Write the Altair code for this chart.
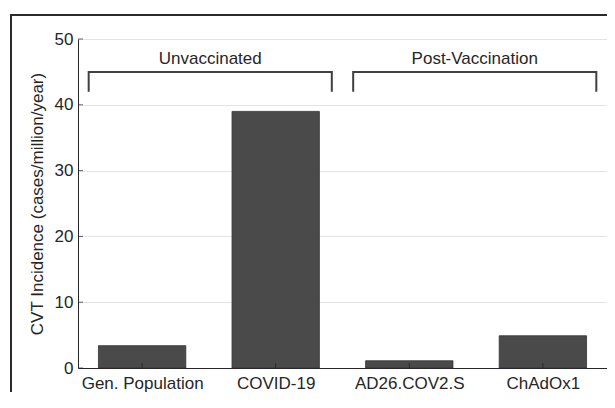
import altair as alt
import pandas as pd

categories = ["Gen. Population", "COVID-19", "AD26.COV2.S", "ChAdOx1"]
positions = [1, 2, 3, 4]
incidence = [3.4, 39.0, 1.1, 4.9]

y_ticks = [0, 10, 20, 30, 40, 50]

group_labels = ["Unvaccinated", "Post-Vaccination"]
group_start = [0.6, 2.58]
group_end = [2.42, 4.4]
bracket_top = 45.0
bracket_bottom = 42.0
label_y = 46.9

half_width = 0.327
x_domain = [0.52, 4.48]
y_domain = [0, 50]

FONT = "Liberation Sans"
TXT = "#262626"
FS = 17

bars = pd.DataFrame({
    "cat": categories,
    "pos": positions,
    "val": incidence,
})
bars["x0"] = bars["pos"] - half_width
bars["x1"] = bars["pos"] + half_width

label_expr = "{" + ",".join(f"'{p}':'{c}'" for p, c in zip(positions, categories)) + "}[datum.value]"

rows = []
for g, s, e in zip(group_labels, group_start, group_end):
    rows += [
        {"g": g, "o": 0, "x": s, "y": bracket_bottom},
        {"g": g, "o": 1, "x": s, "y": bracket_top},
        {"g": g, "o": 2, "x": e, "y": bracket_top},
        {"g": g, "o": 3, "x": e, "y": bracket_bottom},
    ]
brackets = pd.DataFrame(rows)
labels = pd.DataFrame({
    "g": group_labels,
    "x": [(s + e) / 2 for s, e in zip(group_start, group_end)],
    "y": [label_y] * 2,
})

xscale = alt.Scale(domain=x_domain, nice=False, zero=False)
yscale = alt.Scale(domain=y_domain, nice=False)

bar_layer = alt.Chart(bars).mark_rect(
    color="#4a4a4a", stroke="#333333", strokeWidth=0.8
).encode(
    x=alt.X("x0:Q", scale=xscale, axis=alt.Axis(
        values=positions, labelExpr=label_expr, title=None, grid=False,
        ticks=False, domainColor=TXT, domainWidth=1, labelPadding=7,
        labelFont=FONT, labelFontSize=FS, labelColor=TXT)),
    x2="x1:Q",
    y=alt.Y("val:Q", scale=yscale, axis=alt.Axis(
        values=y_ticks, title="CVT Incidence (cases/million/year)",
        grid=True, gridColor="#e3e3e3", gridWidth=1, ticks=False,
        domainColor=TXT, domainWidth=1, labelPadding=5,
        labelFont=FONT, labelFontSize=FS, labelColor=TXT,
        titleFont=FONT, titleFontSize=FS, titleFontWeight="normal",
        titleColor=TXT, titlePadding=8)),
    y2=alt.datum(0),
)

xticks = alt.Chart(bars).mark_tick(
    orient="vertical", size=5, thickness=1, color="#1f1f1f", yOffset=-2.5
).encode(x=alt.X("pos:Q", scale=xscale), y=alt.datum(0))

ytick_df = pd.DataFrame({"t": y_ticks})
yticks = alt.Chart(ytick_df).mark_tick(
    orient="horizontal", size=5, thickness=1, color=TXT, xOffset=2.5
).encode(x=alt.datum(x_domain[0]), y=alt.Y("t:Q", scale=yscale))

bracket_layer = alt.Chart(brackets).mark_line(
    color="#404040", strokeWidth=2, strokeJoin="miter", strokeCap="butt"
).encode(
    x=alt.X("x:Q", scale=xscale),
    y=alt.Y("y:Q", scale=yscale),
    detail="g:N",
    order="o:Q",
)

label_layer = alt.Chart(labels).mark_text(
    font=FONT, fontSize=FS, color=TXT, baseline="middle", align="center"
).encode(
    x=alt.X("x:Q", scale=xscale),
    y=alt.Y("y:Q", scale=yscale),
    text="g:N",
)

frame_top = alt.Chart(ytick_df).mark_rule(
    stroke="#2b2b2b", strokeWidth=2
).encode(x=alt.value(-67), x2=alt.value(529), y=alt.value(-24))

frame_left = alt.Chart(ytick_df).mark_rule(
    stroke="#2b2b2b", strokeWidth=2
).encode(x=alt.value(-67), y=alt.value(-25), y2=alt.value(353))

chart = alt.layer(
    frame_top, frame_left, bar_layer, xticks, yticks, bracket_layer, label_layer
).properties(
    width=529, height=329,
    autosize=alt.AutoSizeParams(type="none"),
    padding={"left": 70, "top": 31, "right": 0, "bottom": 24},
).configure_view(stroke=None).configure(background="white")

chart.save("out.html", embed_options={"renderer": "svg", "actions": False})
